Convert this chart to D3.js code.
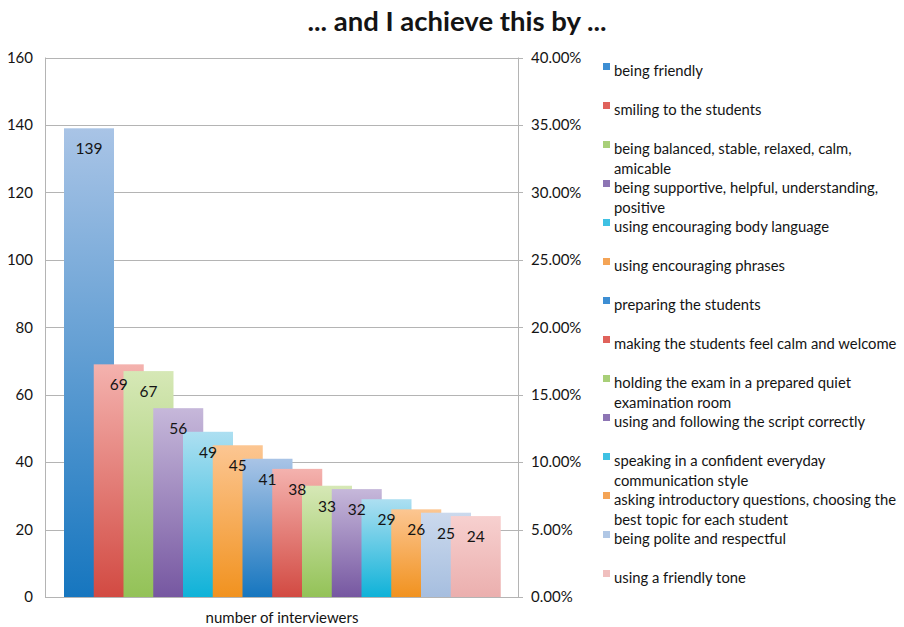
<!DOCTYPE html>
<html>
<head>
<meta charset="utf-8">
<script src="https://cdn.jsdelivr.net/npm/d3@7/dist/d3.min.js"></script>
<style>
  html, body { margin: 0; padding: 0; background: #fff; }
  svg { display: block; }
  text { font-family: Lato, "Open Sans", sans-serif; fill: #141414; }
</style>
</head>
<body>
<svg id="chart" width="904" height="627"></svg>
<script>
// Answers, in the order they are drawn (left to right)
const categories = [
  "being friendly",
  "smiling to the students",
  "being balanced, stable, relaxed, calm, amicable",
  "being supportive, helpful, understanding, positive",
  "using encouraging body language",
  "using encouraging phrases",
  "preparing the students",
  "making the students feel calm and welcome",
  "holding the exam in a prepared quiet examination room",
  "using and following the script correctly",
  "speaking in a confident everyday communication style",
  "asking introductory questions, choosing the best topic for each student",
  "being polite and respectful",
  "using a friendly tone"
];
const values = [139, 69, 67, 56, 49, 45, 41, 38, 33, 32, 29, 26, 25, 24];

// Legend lines (wrapped as in the legend box)
const legendLines = [
  ["being friendly"],
  ["smiling to the students"],
  ["being balanced, stable, relaxed, calm,", "amicable"],
  ["being supportive, helpful, understanding,", "positive"],
  ["using encouraging body language"],
  ["using encouraging phrases"],
  ["preparing the students"],
  ["making the students feel calm and welcome"],
  ["holding the exam in a prepared quiet", "examination room"],
  ["using and following the script correctly"],
  ["speaking in a confident everyday", "communication style"],
  ["asking introductory questions, choosing the", "best topic for each student"],
  ["being polite and respectful"],
  ["using a friendly tone"]
];

const leftTicks = [0, 20, 40, 60, 80, 100, 120, 140, 160];
const rightTicks = [0, 0.05, 0.10, 0.15, 0.20, 0.25, 0.30, 0.35, 0.40];
const axisTitle = "number of interviewers";
const chartTitle = "... and I achieve this by ...";

// Colour pairs per bar: [top, bottom, legend swatch]
const palette = [
  ["#a9c4e6", "#1676bf", "#3d8ed3"],
  ["#f4b2ae", "#d24a42", "#e0625b"],
  ["#d6e8b6", "#93c257", "#a8cf78"],
  ["#c6b8da", "#7657a1", "#8d75b4"],
  ["#addff1", "#0fb2d8", "#3fc1e3"],
  ["#fcc692", "#f1921f", "#f4a456"],
  ["#a9c4e6", "#1676bf", "#3d8ed3"],
  ["#f4b2ae", "#d24a42", "#e0625b"],
  ["#d6e8b6", "#93c257", "#a8cf78"],
  ["#c6b8da", "#7657a1", "#8d75b4"],
  ["#addff1", "#0fb2d8", "#3fc1e3"],
  ["#fcc692", "#f1921f", "#f4a456"],
  ["#cbd9ed", "#a6bedf", "#b0c7e5"],
  ["#f7d0cf", "#ebafae", "#f0bfbe"]
];

const FONT = "Lato, 'Open Sans', sans-serif";
const svg = d3.select("#chart");
const plot = { left: 45, right: 518, top: 57.5, bottom: 597 };

const y = d3.scaleLinear().domain([0, 160]).range([plot.bottom, plot.top]);
const yPct = d3.scaleLinear().domain([0, 0.40]).range([plot.bottom, plot.top]);

// Bars overlap: each sits one step to the right of the previous one
const barWidth = 50;
const x = d3.scaleLinear().domain([0, categories.length - 1]).range([64, 64 + 29.75 * 13]);

// Gradients (light on top, saturated at the base)
const defs = svg.append("defs");
palette.forEach((c, i) => {
  const g = defs.append("linearGradient")
    .attr("id", "grad" + i)
    .attr("x1", 0).attr("y1", 0).attr("x2", 0).attr("y2", 1);
  g.append("stop").attr("offset", "0%").attr("stop-color", c[0]);
  g.append("stop").attr("offset", "100%").attr("stop-color", c[1]);
});

// Gridlines
svg.append("g")
  .selectAll("line")
  .data(leftTicks)
  .join("line")
  .attr("x1", plot.left).attr("x2", plot.right + 5)
  .attr("y1", d => Math.round(y(d)) + 0.5).attr("y2", d => Math.round(y(d)) + 0.5)
  .attr("stroke", "#b4b4b4").attr("stroke-width", 1);

// Vertical axis lines
svg.append("line")
  .attr("x1", plot.left + 0.5).attr("x2", plot.left + 0.5)
  .attr("y1", plot.top).attr("y2", plot.bottom)
  .attr("stroke", "#b4b4b4");
svg.append("line")
  .attr("x1", plot.right + 0.5).attr("x2", plot.right + 0.5)
  .attr("y1", plot.top).attr("y2", plot.bottom)
  .attr("stroke", "#b4b4b4");

// Left axis labels
const leftAxis = d3.axisLeft(y).tickValues(leftTicks).tickSize(0).tickPadding(12);
const gl = svg.append("g").attr("transform", `translate(${plot.left},0)`).call(leftAxis);
gl.select(".domain").remove();
gl.selectAll("text").attr("font-size", 15).style("font-family", FONT).attr("fill", "#141414");

// Right axis labels (share of answers)
const rightAxis = d3.axisRight(yPct).tickValues(rightTicks).tickSize(0)
  .tickPadding(13).tickFormat(d3.format(".2%"));
const gr = svg.append("g").attr("transform", `translate(${plot.right},0)`).call(rightAxis);
gr.select(".domain").remove();
gr.selectAll("text").attr("font-size", 15).style("font-family", FONT).attr("fill", "#141414");

// Bars
svg.append("g")
  .selectAll("rect")
  .data(values)
  .join("rect")
  .attr("x", (d, i) => x(i))
  .attr("y", d => y(d))
  .attr("width", barWidth)
  .attr("height", d => y(0) - y(d))
  .attr("fill", (d, i) => `url(#grad${i})`);

// Value labels, drawn over all bars
svg.append("g")
  .selectAll("text")
  .data(values)
  .join("text")
  .attr("x", (d, i) => x(i) + barWidth / 2)
  .attr("y", d => y(d) + 26)
  .attr("text-anchor", "middle")
  .attr("font-size", 15.5)
  .text(d => d);

// Category axis title
svg.append("text")
  .attr("x", 282).attr("y", 623)
  .attr("text-anchor", "middle")
  .attr("font-size", 15)
  .text(axisTitle);

// Title
svg.append("text")
  .attr("x", 457).attr("y", 31)
  .attr("text-anchor", "middle")
  .attr("font-size", 27.5)
  .attr("font-weight", "bold")
  .text(chartTitle);

// Legend
const legendY = d3.scaleLinear().domain([0, 13]).range([71, 578]);
const lg = svg.append("g");
legendLines.forEach((lines, i) => {
  const yy = legendY(i);
  lg.append("rect")
    .attr("x", 603).attr("y", yy - 8)
    .attr("width", 7).attr("height", 7)
    .attr("fill", palette[i][2]);
  lines.forEach((t, j) => {
    lg.append("text")
      .attr("x", 614).attr("y", yy + j * 19.5 + 5)
      .attr("font-size", 14.8)
      .text(t);
  });
});
</script>
</body>
</html>
